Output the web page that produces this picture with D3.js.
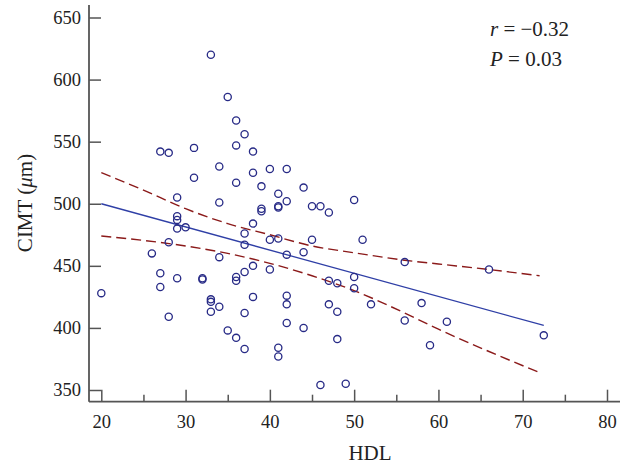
<!DOCTYPE html>
<html>
<script src='https://d3js.org/d3.v7.min.js'></script>
<style>
 body {margin:0; background:#fff;}
 text {font-family: 'Liberation Serif', 'DejaVu Serif', serif; fill:#222;}
</style>
<body onload='init()'>
<svg width=628 height=466></svg>
<script>

// HDL (x) and CIMT in µm (y)
var hdl  = [20,26,27,27,27,28,28,28,29,29,29,29,29,30,31,31,32,32,33,33,33,33,
            34,34,34,34,35,35,36,36,36,36,36,36,37,37,37,37,37,37,38,38,38,38,38,
            39,39,39,40,40,40,41,41,41,41,41,41,42,42,42,42,42,42,44,44,44,45,45,
            46,46,47,47,47,48,48,48,49,50,50,50,51,52,56,56,58,59,61,66,72.5];
var cimt = [428,460,542,444,433,541,469,409,505,490,487,480,440,481,545,521,440,439,620,423,421,413,
            530,501,457,417,586,398,567,547,517,441,438,392,556,476,467,445,412,383,542,525,484,450,425,
            514,496,494,528,471,447,508,498,497,472,384,377,528,502,459,426,419,404,513,461,400,498,471,
            498,354,493,438,419,436,413,391,355,503,441,432,471,419,453,406,420,386,405,447,394];

// regression line ends
var fitX = [20, 72.5];
var fitY = [500, 402];

// 95% confidence band, read at several HDL values
var bandX     = [20, 25, 30, 35, 40, 45, 50, 56, 60, 66, 72];
var bandUpper = [525, 511, 496, 484, 475, 466, 460.5, 454.5, 451.5, 447, 442];
var bandLower = [474, 470.5, 466, 460, 452, 442, 430, 412, 399, 381, 364];

var yTicks = [350, 400, 450, 500, 550, 600, 650];
var xTicks = [20, 30, 40, 50, 60, 70, 80];
var xMinor = [25, 35, 45, 55, 65, 75];

function init() {

 var svg = d3.select('svg');
 var axisColor = '#555';

 var x = d3.scaleLinear().domain([20, 80]).range([101.3, 607]);
 var y = d3.scaleLinear().domain([350, 650]).range([390, 17.5]);

 var axisY = 401.7, axisX = 89;

 // y axis
 var gy = svg.append('g')
   .attr('transform', 'translate(' + axisX + ',0)')
   .call(d3.axisLeft(y).tickValues(yTicks).tickSizeInner(-12).tickSizeOuter(0).tickPadding(8));
 gy.select('.domain').remove();
 gy.selectAll('line').attr('stroke', axisColor).attr('stroke-width', 1.5);
 gy.selectAll('text').style('font-size', '18.5px').attr('fill', '#222');

 // x axis
 var gx = svg.append('g')
   .attr('transform', 'translate(0,' + axisY + ')')
   .call(d3.axisBottom(x).tickValues(xTicks).tickSizeInner(-12).tickSizeOuter(0).tickPadding(13));
 gx.select('.domain').remove();
 gx.selectAll('line').attr('stroke', axisColor).attr('stroke-width', 1.5);
 gx.selectAll('text').style('font-size', '18.5px').attr('fill', '#222');

 svg.append('g')
   .attr('transform', 'translate(0,' + axisY + ')')
   .call(d3.axisBottom(x).tickValues(xMinor).tickSizeInner(-7).tickSizeOuter(0).tickFormat(''))
   .call(g => g.select('.domain').remove())
   .selectAll('line').attr('stroke', axisColor).attr('stroke-width', 1.5);

 // axis lines
 svg.append('line').attr('x1', axisX).attr('x2', axisX).attr('y1', 5).attr('y2', axisY)
   .attr('stroke', axisColor).attr('stroke-width', 1.8);
 svg.append('line').attr('x1', axisX).attr('x2', 620).attr('y1', axisY).attr('y2', axisY)
   .attr('stroke', axisColor).attr('stroke-width', 1.8);

 // confidence band
 var band = d3.line().curve(d3.curveMonotoneX);
 svg.append('path')
   .attr('d', band(bandX.map((v, i) => [x(v), y(bandUpper[i])])))
   .attr('fill', 'none').attr('stroke', '#8b1a1a').attr('stroke-width', 1.4)
   .attr('stroke-dasharray', '10,5');
 svg.append('path')
   .attr('d', band(bandX.map((v, i) => [x(v), y(bandLower[i])])))
   .attr('fill', 'none').attr('stroke', '#8b1a1a').attr('stroke-width', 1.4)
   .attr('stroke-dasharray', '10,5');

 // regression line
 svg.append('line')
   .attr('x1', x(fitX[0])).attr('y1', y(fitY[0]))
   .attr('x2', x(fitX[1])).attr('y2', y(fitY[1]))
   .attr('stroke', '#2f3fa6').attr('stroke-width', 1.3);

 // points
 svg.append('g')
   .selectAll('circle')
   .data(hdl)
   .enter()
    .append('circle')
      .attr('cx', function (d, i) { return x(d); })
      .attr('cy', function (d, i) { return y(cimt[i]); })
      .attr('r', 3.6)
      .attr('fill', 'none')
      .attr('stroke', '#272a86')
      .attr('stroke-width', 1.3);

 // axis titles
 svg.append('text')
   .attr('x', 370).attr('y', 460)
   .attr('text-anchor', 'middle')
   .style('font-size', '21px')
   .text('HDL');

 var yl = svg.append('text')
   .attr('transform', 'translate(32,203) rotate(-90)')
   .attr('text-anchor', 'middle')
   .style('font-size', '21px');
 yl.append('tspan').text('CIMT (');
 yl.append('tspan').style('font-style', 'italic').text('\u03bc');
 yl.append('tspan').text('m)');

 // statistics
 var t1 = svg.append('text').attr('x', 490).attr('y', 36).style('font-size', '21px');
 t1.append('tspan').style('font-style', 'italic').text('r');
 t1.append('tspan').text(' = \u22120.32');
 var t2 = svg.append('text').attr('x', 490).attr('y', 66).style('font-size', '21px');
 t2.append('tspan').style('font-style', 'italic').text('P');
 t2.append('tspan').text(' = 0.03');
}

</script>
</body>
</html>
